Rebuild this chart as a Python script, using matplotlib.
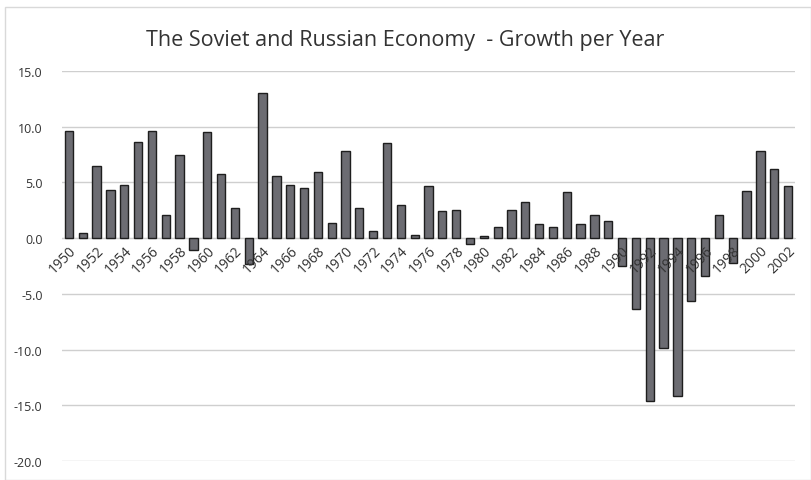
import matplotlib.pyplot as plt
import numpy as np

# Growth per year
years = list(range(1950, 2003))
growth = [9.6, 0.5, 6.5, 4.3, 4.8, 8.6, 9.6, 2.1, 7.5, -1.1,
          9.5, 5.8, 2.7, -2.3, 13.0, 5.6, 4.8, 4.5, 5.9, 1.4,
          7.8, 2.7, 0.6, 8.5, 3.0, 0.3, 4.7, 2.4, 2.5, -0.5,
          0.2, 1.0, 2.5, 3.2, 1.3, 1.0, 4.1, 1.3, 2.1, 1.5,
          -2.5, -6.4, -14.6, -9.9, -14.2, -5.6, -3.4, 2.1, -2.2, 4.2,
          7.8, 6.2, 4.7]
y_ticks = [15, 10, 5, 0, -5, -10, -15, -20]

plt.rcParams['font.family'] = ['Open Sans', 'DejaVu Sans']

fig = plt.figure(figsize=(8.11, 4.81), dpi=100)
ax = fig.add_axes([62 / 811, 19 / 481, 733 / 811, 390 / 481])

# x axis sits on the zero line (set before the tick labels, it resets them)
ax.spines['bottom'].set_position(('data', 0))
ax.spines['bottom'].set_color('#cfcfcf')
for s in ['top', 'right', 'left']:
    ax.spines[s].set_visible(False)

x = np.arange(len(years))
ax.bar(x, growth, width=0.6, color='#6c6c72', edgecolor='#1e1e1e',
       linewidth=1.0, zorder=3)

ax.set_ylim(-20, 15)
ax.set_xlim(-0.5, len(years) - 0.5)
ax.set_yticks(y_ticks)
ax.set_yticklabels([f'{v:.1f}' for v in y_ticks], fontsize=9, color='#333333')
ax.yaxis.grid(True, color='#cfcfcf', linewidth=1.0)
ax.yaxis.set_zorder(1)
ax.tick_params(axis='y', length=0, pad=14)

# labels every second year, rotated, drawn over the bars
ax.set_xticks(x[::2])
ax.set_xticklabels([str(y) for y in years[::2]], fontsize=10, color='#333333')
for lab in ax.get_xticklabels():
    lab.set_rotation(45)
    lab.set_ha('right')
    lab.set_rotation_mode('anchor')
ax.tick_params(axis='x', length=0, pad=3)
ax.xaxis.set_zorder(5)

fig.text(0.5, 1 - 41 / 481, 'The Soviet and Russian Economy  - Growth per Year',
         ha='center', va='center', fontsize=15.5, color='#333333')

# light border round the chart
fig.patches.append(plt.Rectangle((5 / 811, 0), 806 / 811, 473 / 481,
                                 transform=fig.transFigure, fill=False,
                                 edgecolor='#d9d9d9', linewidth=1.0))

fig.savefig('out.png', dpi=100)
